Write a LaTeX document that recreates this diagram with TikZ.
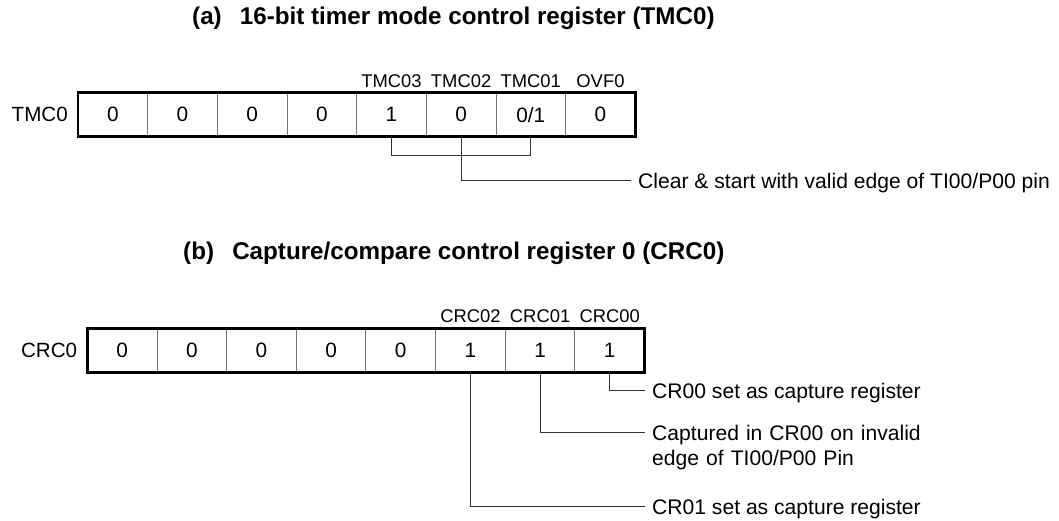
\documentclass[tikz,border=0pt]{standalone}
\usepackage{fontspec}
\setmainfont{Liberation Sans}
\begin{document}
\begin{tikzpicture}[x=1pt,y=-1pt,
  cell/.style={draw=black!55,line width=0.9pt,minimum width=69.66pt,minimum height=44pt,inner sep=0pt,outer sep=0pt,font=\fontsize{20.8}{24}\selectfont},
  regname/.style={anchor=east,inner sep=0pt,font=\fontsize{20.6}{24}\selectfont},
  bitlbl/.style={anchor=base,inner sep=0pt,font=\fontsize{18.4}{22}\selectfont},
  title/.style={anchor=west,inner sep=0pt,font=\fontsize{24.2}{28}\selectfont\bfseries},
  note/.style={anchor=base west,inner sep=0pt,align=left,font=\fontsize{21.1}{25.3}\selectfont},
  outer/.style={draw=black,line width=2.7pt},
  conn/.style={draw=black!80,line width=1pt}]
\useasboundingbox (0,0) rectangle (1059,521);
% titles
\node[title] (ta) at (192,18) {(a)\hspace{0.75em}16-bit timer mode control register (TMC0)};
\node[title] (tb) at (183,253) {(b)\hspace{0.75em}Capture/compare control register 0 (CRC0)};
% TMC0 register
\foreach \i/\v in {1/0,2/0,3/0,4/0,5/1,6/0,7/{0/1},8/0}
  \node[cell] (t\i) at ({78+69.66*(\i-0.5)},114.7) {\v};
\draw[outer] (t1.north west) rectangle (t8.south east);
\node[regname] (tname) at ([xshift=-10pt]t1.west) {TMC0};
\node[bitlbl] (lt5) at ([yshift=5.4pt]t5.north) {TMC03};
\node[bitlbl] (lt6) at ([yshift=5.4pt]t6.north) {TMC02};
\node[bitlbl] (lt7) at ([yshift=5.4pt]t7.north) {TMC01};
\node[bitlbl] (lt8) at ([yshift=5.4pt]t8.north) {OVF0};
\node[note] (clr) at (638,188.6) {Clear \& start with valid edge of TI00/P00 pin};
\coordinate (clrend) at ([xshift=-7pt,yshift=7.6pt]clr.base west);
\draw[conn] (t5.south) -- ++(0,18.6) -| (t7.south);
\draw[conn] (t6.south) |- (clrend);
% CRC0 register
\foreach \i/\v in {1/0,2/0,3/0,4/0,5/0,6/1,7/1,8/1}
  \node[cell] (c\i) at ({87.3+69.66*(\i-0.5)},350.3) {\v};
\draw[outer] (c1.north west) rectangle (c8.south east);
\node[regname] (cname) at ([xshift=-10pt]c1.west) {CRC0};
\node[bitlbl] (lc6) at ([yshift=5.4pt]c6.north) {CRC02};
\node[bitlbl] (lc7) at ([yshift=5.4pt]c7.north) {CRC01};
\node[bitlbl] (lc8) at ([yshift=5.4pt]c8.north) {CRC00};
\node[note] (n1) at (652,398.3) {CR00 set as capture register};
\node[note,text width=320pt] (n2) at (652,440.3) {Captured in CR00 on invalid\\edge of TI00/P00 Pin};
\node[note] (n3) at (652,514.3) {CR01 set as capture register};
\coordinate (e1) at ([xshift=-7pt,yshift=7.6pt]n1.base west);
\coordinate (e2) at ([xshift=-7pt,yshift=7.6pt]n2.base west);
\coordinate (e3) at ([xshift=-7pt,yshift=7.6pt]n3.base west);
\draw[conn] (c8.south) |- (e1);
\draw[conn] (c7.south) |- (e2);
\draw[conn] (c6.south) |- (e3);
\end{tikzpicture}
\end{document}
